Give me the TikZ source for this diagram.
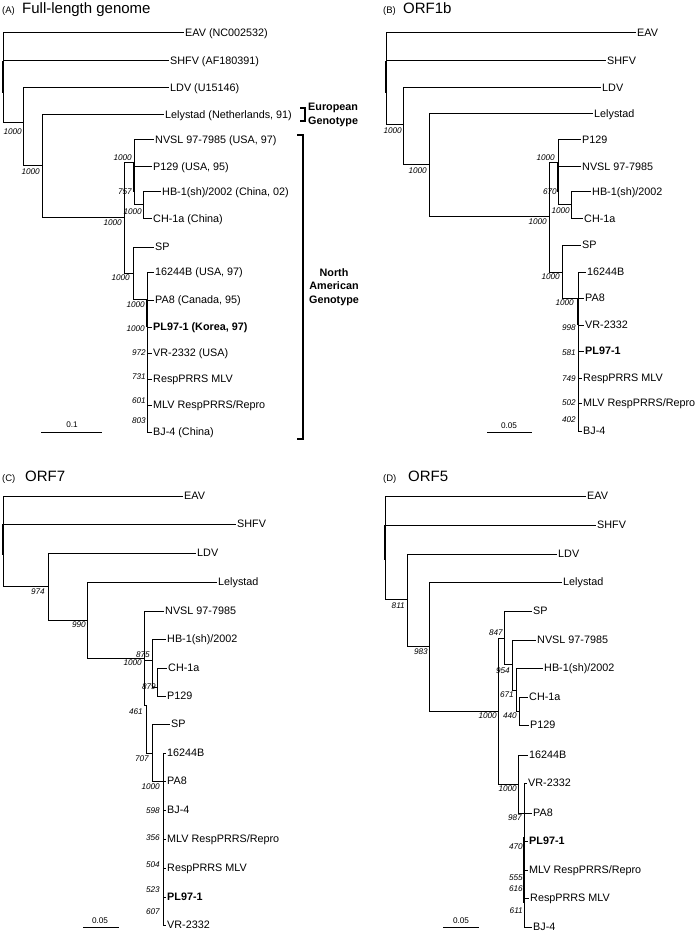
\documentclass[tikz,border=0pt]{standalone}
\usepackage{fontspec}
\setmainfont{Liberation Sans}
\begin{document}
\begin{tikzpicture}[x=1pt,y=-1pt,
  br/.style={line width=1pt,line cap=rect},
  thk/.style={line width=1.8pt},
  brk/.style={line width=1.4pt},
  leaf/.style={anchor=west,inner xsep=2pt,inner ysep=0pt,text height=7.6pt,text depth=0pt,font=\fontsize{10.8}{12}\selectfont},
  bleaf/.style={leaf,font=\fontsize{10.8}{12}\selectfont\bfseries},
  boot/.style={anchor=east,inner sep=0pt,text height=5.9pt,text depth=0pt,font=\fontsize{8.2}{9}\selectfont\itshape},
  sclab/.style={inner sep=0pt,text height=5.9pt,text depth=0pt,font=\fontsize{8.2}{9}\selectfont},
  ttl/.style={anchor=base west,inner sep=0pt,font=\fontsize{15}{18}\selectfont},
  ttls/.style={anchor=base west,inner sep=0pt,font=\fontsize{9.5}{11}\selectfont},
  grp/.style={inner sep=0pt,font=\fontsize{10.8}{13.5}\selectfont\bfseries}
]
\useasboundingbox (0,0) rectangle (695,933);

% ================= Panel A =================
\node[ttls] (tA1) at (2,13.5) {(A)};
\node[ttl] (tA2) at (22,13.5) {Full-length genome};

\node[leaf] (eavA) at (183,33) {EAV (NC002532)};
\node[leaf] (shfvA) at (168,61) {SHFV (AF180391)};
\node[leaf] (ldvA) at (168,88) {LDV (U15146)};
\node[leaf] (lelyA) at (163,115) {Lelystad (Netherlands, 91)};
\node[leaf] (nvslA) at (153,140) {NVSL 97-7985 (USA, 97)};
\node[leaf] (p129A) at (151,167) {P129 (USA, 95)};
\node[leaf] (hbA) at (160,192) {HB-1(sh)/2002 (China, 02)};
\node[leaf] (chA) at (151,219) {CH-1a (China)};
\node[leaf] (spA) at (153,247) {SP};
\node[leaf] (b16A) at (153,272) {16244B (USA, 97)};
\node[leaf] (pa8A) at (153,300) {PA8 (Canada, 95)};
\node[bleaf] (plA) at (151,327) {PL97-1 (Korea, 97)};
\node[leaf] (vrA) at (151,353) {VR-2332 (USA)};
\node[leaf] (rmA) at (151,379) {RespPRRS MLV};
\node[leaf] (mlvA) at (151,405) {MLV RespPRRS/Repro};
\node[leaf] (bjA) at (151,432) {BJ-4 (China)};

\coordinate (rA) at (3,61);
\coordinate (rAt) at (3,93);
\coordinate (n1A) at (23,123);
\coordinate (n2A) at (42,166);
\coordinate (n3A) at (124,218);
\coordinate (n4A) at (134,163);
\coordinate (n6A) at (143,205);
\coordinate (n7A) at (133,273);
\coordinate (n8A) at (147,299);

\draw[br] (rA) |- (eavA.west) (rA) |- (shfvA.west) (rA) |- (n1A)
  (n1A) |- (ldvA.west) (n1A) |- (n2A)
  (n2A) |- (lelyA.west) (n2A) |- (n3A)
  (n3A) |- (n4A) (n3A) |- (n7A)
  (n4A) |- (nvslA.west) (n4A) |- (p129A.west) (n4A) |- (n6A)
  (n6A) |- (hbA.west) (n6A) |- (chA.west)
  (n7A) |- (spA.west) (n7A) |- (n8A)
  (n8A) |- (b16A.west) (n8A) |- (pa8A.west) (n8A) |- (plA.west)
  (n8A) |- (vrA.west) (n8A) |- (rmA.west) (n8A) |- (mlvA.west) (n8A) |- (bjA.west);
\draw[thk] (rA) -- (rAt);
\draw[thk] (n4A) -- (n4A |- hbA.west);
\draw[thk] (n8A) -- (n8A |- plA.west);

\node[boot] (bA1) at (22,132) {1000};
\node[boot] (bA2) at (40,172) {1000};
\node[boot] (bA3) at (122,223) {1000};
\node[boot] (bA4) at (132,158) {1000};
\node[boot] (bA5) at (132,192) {757};
\node[boot] (bA6) at (142,212) {1000};
\node[boot] (bA7) at (130,278) {1000};
\node[boot] (bA8) at (145,305) {1000};
\node[boot] (bA9) at (145,329) {1000};
\node[boot] (bA10) at (146,353) {972};
\node[boot] (bA11) at (146,377) {731};
\node[boot] (bA12) at (146,401) {601};
\node[boot] (bA13) at (146,421) {803};

\coordinate (sA1) at (41,432);
\coordinate (sA2) at (102,432);
\draw[br,line cap=butt] (sA1) -- (sA2);
\node[sclab] (sAl) at (72,425) {0.1};

% brackets
\coordinate (euT) at (300,108);
\coordinate (euB) at (300,121);
\coordinate (euX) at (305,108);
\draw[brk] (euT) -| (euX |- euB) -- (euB);
\node[grp,anchor=west,align=left] (euro) at (308,115) {European\\Genotype};
\coordinate (naT) at (297,135);
\coordinate (naB) at (297,439);
\coordinate (naX) at (303,135);
\draw[brk] (naT) -| (naX |- naB) -- (naB);
\node[grp,align=center] (namer) at (334,287) {North\\American\\Genotype};

% ================= Panel B =================
\node[ttls] (tB1) at (383,13.5) {(B)};
\node[ttl] (tB2) at (403,13.5) {ORF1b};

\node[leaf] (eavB) at (635,33) {EAV};
\node[leaf] (shfvB) at (605,61) {SHFV};
\node[leaf] (ldvB) at (600,88) {LDV};
\node[leaf] (lelyB) at (592,114) {Lelystad};
\node[leaf] (p129B) at (580,140) {P129};
\node[leaf] (nvslB) at (580,167) {NVSL 97-7985};
\node[leaf] (hbB) at (590,192) {HB-1(sh)/2002};
\node[leaf] (chB) at (582,219) {CH-1a};
\node[leaf] (spB) at (580,245) {SP};
\node[leaf] (b16B) at (585,272) {16244B};
\node[leaf] (pa8B) at (583,298) {PA8};
\node[leaf] (vrB) at (583,325) {VR-2332};
\node[bleaf] (plB) at (583,351) {PL97-1};
\node[leaf] (rmB) at (581,378) {RespPRRS MLV};
\node[leaf] (mlvB) at (581,403) {MLV RespPRRS/Repro};
\node[leaf] (bjB) at (581,431) {BJ-4};

\coordinate (rB) at (386,61);
\coordinate (rBt) at (386,93);
\coordinate (n1B) at (403,125);
\coordinate (n2B) at (429,165);
\coordinate (n3B) at (549,217);
\coordinate (n4B) at (558,163);
\coordinate (n6B) at (571,205);
\coordinate (n7B) at (562,272);
\coordinate (n8B) at (578,298);

\draw[br] (rB) |- (eavB.west) (rB) |- (shfvB.west) (rB) |- (n1B)
  (n1B) |- (ldvB.west) (n1B) |- (n2B)
  (n2B) |- (lelyB.west) (n2B) |- (n3B)
  (n3B) |- (n4B) (n3B) |- (n7B)
  (n4B) |- (p129B.west) (n4B) |- (nvslB.west) (n4B) |- (n6B)
  (n6B) |- (hbB.west) (n6B) |- (chB.west)
  (n7B) |- (spB.west) (n7B) |- (n8B)
  (n8B) |- (b16B.west) (n8B) |- (pa8B.west) (n8B) |- (vrB.west)
  (n8B) |- (plB.west) (n8B) |- (rmB.west) (n8B) |- (mlvB.west) (n8B) |- (bjB.west);
\draw[thk] (rB) -- (rBt);
\draw[thk] (n4B) -- (n4B |- hbB.west);
\draw[thk] (n8B) -- (n8B |- vrB.west);

\node[boot] (bB1) at (402,131) {1000};
\node[boot] (bB2) at (427,171) {1000};
\node[boot] (bB3) at (547,222) {1000};
\node[boot] (bB4) at (555,158) {1000};
\node[boot] (bB5) at (557,192) {670};
\node[boot] (bB6) at (570,211) {1000};
\node[boot] (bB7) at (560,277) {1000};
\node[boot] (bB8) at (574,303) {1000};
\node[boot] (bB9) at (576,328) {998};
\node[boot] (bB10) at (576,353) {581};
\node[boot] (bB11) at (576,379) {749};
\node[boot] (bB12) at (576,403) {502};
\node[boot] (bB13) at (576,420) {402};

\coordinate (sB1) at (487,432);
\coordinate (sB2) at (532,432);
\draw[br,line cap=butt] (sB1) -- (sB2);
\node[sclab] (sBl) at (509,426) {0.05};

% ================= Panel C =================
\node[ttls] (tC1) at (2,481) {(C)};
\node[ttl] (tC2) at (25,481) {ORF7};

\node[leaf] (eavC) at (182,496) {EAV};
\node[leaf] (shfvC) at (235,524) {SHFV};
\node[leaf] (ldvC) at (195,553) {LDV};
\node[leaf] (lelyC) at (216,582) {Lelystad};
\node[leaf] (nvslC) at (163,611) {NVSL 97-7985};
\node[leaf] (hbC) at (165,639) {HB-1(sh)/2002};
\node[leaf] (chC) at (166,668) {CH-1a};
\node[leaf] (p129C) at (165,696) {P129};
\node[leaf] (spC) at (169,724) {SP};
\node[leaf] (b16C) at (165,753) {16244B};
\node[leaf] (pa8C) at (165,781) {PA8};
\node[leaf] (bjC) at (165,810) {BJ-4};
\node[leaf] (mlvC) at (165,839) {MLV RespPRRS/Repro};
\node[leaf] (rmC) at (165,868) {RespPRRS MLV};
\node[bleaf] (plC) at (165,897) {PL97-1};
\node[leaf] (vrC) at (165,925) {VR-2332};

\coordinate (rC) at (3,524);
\coordinate (rCt) at (3,555);
\coordinate (n1C) at (48,586);
\coordinate (n2C) at (87,620);
\coordinate (n3C) at (144,658);
\coordinate (n4C) at (152,660);
\coordinate (n5C) at (157,687);
\coordinate (n6C) at (146,705);
\coordinate (n7C) at (152,753);
\coordinate (n8C) at (163,781);

\draw[br] (rC) |- (eavC.west) (rC) |- (shfvC.west) (rC) |- (n1C)
  (n1C) |- (ldvC.west) (n1C) |- (n2C)
  (n2C) |- (lelyC.west) (n2C) |- (n3C)
  (n3C) |- (nvslC.west) (n3C) |- (n4C) (n3C) |- (n6C)
  (n4C) |- (hbC.west) (n4C) |- (n5C)
  (n5C) |- (chC.west) (n5C) |- (p129C.west)
  (n6C) |- (n7C)
  (n7C) |- (spC.west) (n7C) |- (n8C)
  (n8C) |- (b16C.west) (n8C) |- (pa8C.west) (n8C) |- (bjC.west)
  (n8C) |- (mlvC.west) (n8C) |- (rmC.west) (n8C) |- (plC.west) (n8C) |- (vrC.west);
\draw[thk] (rC) -- (rCt);

\node[boot] (bC1) at (45,592) {974};
\node[boot] (bC2) at (86,625) {990};
\node[boot] (bC3) at (142,663) {1000};
\node[boot] (bC4) at (150,655) {875};
\node[boot] (bC5) at (156,687) {879};
\node[boot] (bC6) at (143,712) {461};
\node[boot] (bC7) at (149,759) {707};
\node[boot] (bC8) at (160,787) {1000};
\node[boot] (bC9) at (160,811) {598};
\node[boot] (bC10) at (160,838) {356};
\node[boot] (bC11) at (160,865) {504};
\node[boot] (bC12) at (160,890) {523};
\node[boot] (bC13) at (160,912) {607};

\coordinate (sC1) at (83,927);
\coordinate (sC2) at (119,927);
\draw[br,line cap=butt] (sC1) -- (sC2);
\node[sclab] (sCl) at (100,921) {0.05};

% ================= Panel D =================
\node[ttls] (tD1) at (383,481) {(D)};
\node[ttl] (tD2) at (408,481) {ORF5};

\node[leaf] (eavD) at (585,496) {EAV};
\node[leaf] (shfvD) at (595,525) {SHFV};
\node[leaf] (ldvD) at (556,554) {LDV};
\node[leaf] (lelyD) at (561,582) {Lelystad};
\node[leaf] (spD) at (531,611) {SP};
\node[leaf] (nvslD) at (535,640) {NVSL 97-7985};
\node[leaf] (hbD) at (542,668) {HB-1(sh)/2002};
\node[leaf] (chD) at (527,697) {CH-1a};
\node[leaf] (p129D) at (528,725) {P129};
\node[leaf] (b16D) at (527,755) {16244B};
\node[leaf] (vrD) at (526,783) {VR-2332};
\node[leaf] (pa8D) at (531,813) {PA8};
\node[bleaf] (plD) at (527,841) {PL97-1};
\node[leaf] (mlvD) at (527,870) {MLV RespPRRS/Repro};
\node[leaf] (rmD) at (528,898) {RespPRRS MLV};
\node[leaf] (bjD) at (531,927) {BJ-4};

\coordinate (rD) at (385,525);
\coordinate (rDt) at (385,560);
\coordinate (n1D) at (407,599);
\coordinate (n2D) at (429,646);
\coordinate (n3D) at (498,711);
\coordinate (n4D) at (504,638);
\coordinate (n5D) at (512,664);
\coordinate (n6D) at (516,690);
\coordinate (n7D) at (519,711);
\coordinate (n9D) at (518,784);
\coordinate (n10D) at (524,813);
\coordinate (n10Da) at (524,837);
\coordinate (n10Db) at (524,903);

\draw[br] (rD) |- (eavD.west) (rD) |- (shfvD.west) (rD) |- (n1D)
  (n1D) |- (ldvD.west) (n1D) |- (n2D)
  (n2D) |- (lelyD.west) (n2D) |- (n3D)
  (n3D) |- (n4D) (n3D) |- (n9D)
  (n4D) |- (spD.west) (n4D) |- (n5D)
  (n5D) |- (nvslD.west) (n5D) |- (n6D)
  (n6D) |- (hbD.west) (n6D) |- (n7D)
  (n7D) |- (chD.west) (n7D) |- (p129D.west)
  (n9D) |- (b16D.west) (n9D) |- (n10D)
  (n10D) |- (vrD.west) (n10D) |- (pa8D.west) (n10D) |- (plD.west)
  (n10D) |- (mlvD.west) (n10D) |- (rmD.west) (n10D) |- (bjD.west);
\draw[thk] (rD) -- (rDt);
\draw[thk] (n10Da) -- (n10Db);

\node[boot] (bD1) at (405,606) {811};
\node[boot] (bD2) at (428,652) {983};
\node[boot] (bD3) at (503,633) {847};
\node[boot] (bD4) at (510,671) {954};
\node[boot] (bD5) at (514,695) {671};
\node[boot] (bD6) at (497,716) {1000};
\node[boot] (bD7) at (517,716) {440};
\node[boot] (bD8) at (517,789) {1000};
\node[boot] (bD9) at (522,818) {987};
\node[boot] (bD10) at (523,847) {470};
\node[boot] (bD11) at (523,878) {555};
\node[boot] (bD12) at (523,889) {616};
\node[boot] (bD13) at (523,911) {611};

\coordinate (sD1) at (443,927);
\coordinate (sD2) at (479,927);
\draw[br,line cap=butt] (sD1) -- (sD2);
\node[sclab] (sDl) at (461,921) {0.05};
\end{tikzpicture}
\end{document}
